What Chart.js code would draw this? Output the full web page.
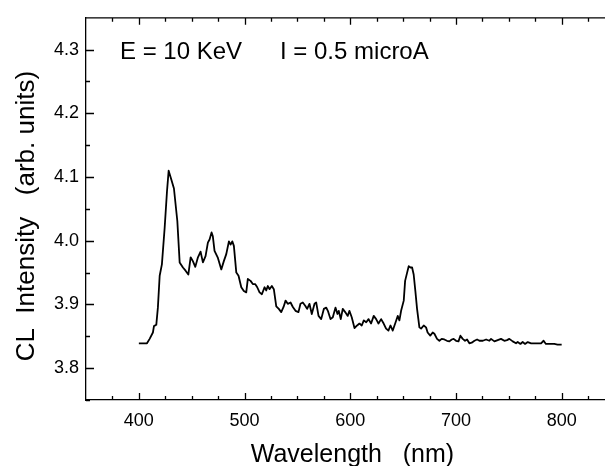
<!DOCTYPE html>
<html>
<head>
<meta charset="utf-8">
<script src="https://cdn.jsdelivr.net/npm/chart.js@4"></script>
<style>
  html, body { margin: 0; padding: 0; background: #fff; }
  canvas { display: block; }
</style>
</head>
<body>
<canvas id="clChart" width="605" height="466"></canvas>
<script>
// CL spectrum
var wavelength = [400, 407.7, 410.2, 413.3, 414.3, 416.5, 418, 419.7, 421.8, 424.4, 426.6, 428.2, 430.7, 433.2, 436.4, 438.6,
  441.7, 444.2, 446.8, 449, 451.1, 453.4, 455.9, 458.4, 460.6, 463.1, 465.3, 466.9, 468.8, 470, 471.6, 474.8,
  478, 480.4, 482.7, 485.2, 486.8, 488.4, 489.9, 492.2, 494.3, 496.9, 499.3, 501.6, 503.1, 505.7, 507.8, 510,
  512, 514.2, 516.4, 518.9, 520.5, 522, 523.6, 525.8, 527.7, 530, 532.4, 534.7, 536.9, 538.8, 540.9, 543.5,
  545.7, 548.2, 551, 552.9, 555.1, 557.4, 559.2, 561.4, 563.6, 566.2, 567.8, 570, 572.5, 575, 577.3, 578.8,
  581.3, 583.5, 586, 587.9, 589.1, 591, 592.9, 595.2, 597.6, 599.2, 601.4, 604, 606.5, 608.7, 610.9, 612.8,
  615.1, 617.3, 619.7, 622.2, 624.5, 626.7, 629.2, 631.6, 633.9, 636.1, 638, 640.2, 642.5, 644.9, 646.5, 648.1,
  650.6, 651.9, 653.8, 655.3, 657, 658.5, 660, 661.6, 663.2, 665.4, 667, 669.5, 671.7, 673.2, 675.7, 678,
  679.6, 682.1, 684.3, 686.5, 689, 691.5, 693.8, 696, 697.8, 700.1, 702.4, 704.2, 706.4, 708.6, 710.5, 712.7,
  714.9, 717.5, 720, 722.2, 725.4, 728.5, 731.6, 733.2, 736.4, 739.5, 742.6, 745.8, 748.3, 750.5, 753.7, 756.8,
  758.4, 761, 763.1, 765.4, 767.9, 771.1, 774.1, 777.3, 780.5, 782.9, 785.1, 788.2, 793, 796.1, 800];
var intensity = [3.839, 3.839, 3.846, 3.856, 3.866, 3.868, 3.895, 3.945, 3.963, 4.020, 4.077, 4.110, 4.096, 4.082, 4.031, 3.966,
  3.958, 3.953, 3.947, 3.974, 3.968, 3.959, 3.974, 3.983, 3.966, 3.976, 3.997, 4.002, 4.013, 4.007, 3.984, 3.973,
  3.955, 3.968, 3.979, 3.999, 3.994, 3.999, 3.992, 3.950, 3.945, 3.927, 3.921, 3.919, 3.940, 3.937, 3.932, 3.932,
  3.927, 3.919, 3.916, 3.927, 3.922, 3.929, 3.924, 3.929, 3.924, 3.897, 3.893, 3.888, 3.896, 3.906, 3.901, 3.903,
  3.896, 3.890, 3.888, 3.901, 3.903, 3.898, 3.893, 3.901, 3.885, 3.901, 3.903, 3.882, 3.877, 3.893, 3.895, 3.890,
  3.877, 3.880, 3.895, 3.885, 3.890, 3.877, 3.893, 3.888, 3.882, 3.890, 3.880, 3.863, 3.867, 3.870, 3.867, 3.875,
  3.872, 3.877, 3.870, 3.882, 3.877, 3.870, 3.877, 3.870, 3.862, 3.859, 3.867, 3.859, 3.870, 3.882, 3.875, 3.890,
  3.906, 3.937, 3.950, 3.960, 3.958, 3.958, 3.947, 3.921, 3.893, 3.864, 3.862, 3.867, 3.864, 3.856, 3.851, 3.856,
  3.854, 3.846, 3.843, 3.846, 3.845, 3.843, 3.842, 3.845, 3.846, 3.843, 3.842, 3.851, 3.846, 3.843, 3.845, 3.839,
  3.840, 3.843, 3.845, 3.843, 3.843, 3.845, 3.843, 3.846, 3.842, 3.844, 3.846, 3.843, 3.844, 3.846, 3.842, 3.839,
  3.841, 3.838, 3.841, 3.838, 3.841, 3.839, 3.839, 3.839, 3.839, 3.843, 3.838, 3.838, 3.838, 3.837, 3.837];

var xTicks = [400, 500, 600, 700, 800];
var yTicks = [3.8, 3.9, 4.0, 4.1, 4.2, 4.3];
var labelE = 'E = 10 KeV';
var labelI = 'I = 0.5 microA';

var FONT = '"Liberation Sans", Arial, sans-serif';

// inward ticks on left, bottom and top, plus the top frame and the text
var frame = {
  id: 'frame',
  afterDraw: function (chart) {
    var c = chart.ctx, a = chart.chartArea;
    var xs = chart.scales.x, ys = chart.scales.y;
    c.save();
    c.strokeStyle = '#000';
    c.lineWidth = 1.3;
    c.beginPath();
    c.moveTo(a.left, a.top);
    c.lineTo(a.right, a.top);
    for (var v = 375; v <= xs.max; v += 25) {
      var px = Math.round(xs.getPixelForValue(v)) + 0.5;
      var len = v % 100 === 0 ? 7 : 4;
      c.moveTo(px, a.bottom); c.lineTo(px, a.bottom - len);
      c.moveTo(px, a.top); c.lineTo(px, a.top + len);
    }
    for (var k = 0; k <= 11; k++) {
      var yv = 3.75 + k * 0.05;
      var py = Math.round(ys.getPixelForValue(yv)) + 0.5;
      var l2 = k % 2 === 1 ? 8 : 4;
      c.moveTo(a.left, py); c.lineTo(a.left + l2, py);
    }
    c.stroke();
    c.fillStyle = '#000';
    c.font = '24px ' + FONT;
    c.textBaseline = 'alphabetic';
    c.fillText(labelE, 120, 59);
    c.fillText(labelI, 280, 59);
    c.restore();
  }
};

var ctx = document.getElementById('clChart').getContext('2d');
var clChart = new Chart(ctx, {
  type: 'line',
  data: {
    datasets: [{
      data: wavelength.map(function (w, i) { return { x: w, y: intensity[i] }; }),
      borderColor: '#000',
      borderWidth: 1.8,
      borderJoinStyle: 'round',
      pointRadius: 0,
      tension: 0,
      fill: false
    }]
  },
  options: {
    responsive: false,
    animation: false,
    layout: { padding: { top: 15, right: 0, left: 0, bottom: 0 } },
    plugins: { legend: { display: false }, tooltip: { enabled: false } },
    scales: {
      x: {
        type: 'linear',
        min: 350,
        max: 841,
        afterFit: function (s) { s.height = 66; },
        afterBuildTicks: function (s) { s.ticks = xTicks.map(function (v) { return { value: v }; }); },
        grid: { display: false, drawTicks: false },
        border: { display: true, color: '#000', width: 1.3 },
        ticks: { color: '#000', font: { family: FONT, size: 18 }, padding: 10, maxRotation: 0 },
        title: {
          display: true,
          text: '  Wavelength   (nm)',
          color: '#000',
          font: { family: FONT, size: 25, lineHeight: 0.88 },
          padding: { top: 0, bottom: 0 }
        }
      },
      y: {
        min: 3.75,
        max: 4.35,
        afterFit: function (s) { s.width = 86; },
        afterBuildTicks: function (s) { s.ticks = yTicks.map(function (v) { return { value: v }; }); },
        grid: { display: false, drawTicks: false },
        border: { display: true, color: '#000', width: 1.3 },
        ticks: {
          color: '#000',
          font: { family: FONT, size: 18 },
          padding: 7,
          callback: function (v) { return v.toFixed(1); }
        },
        title: {
          display: true,
          text: 'CL  Intensity   (arb. units)  ',
          color: '#000',
          font: { family: FONT, size: 26 },
          padding: { top: 11, bottom: 0 }
        }
      }
    }
  },
  plugins: [frame]
});
</script>
</body>
</html>
